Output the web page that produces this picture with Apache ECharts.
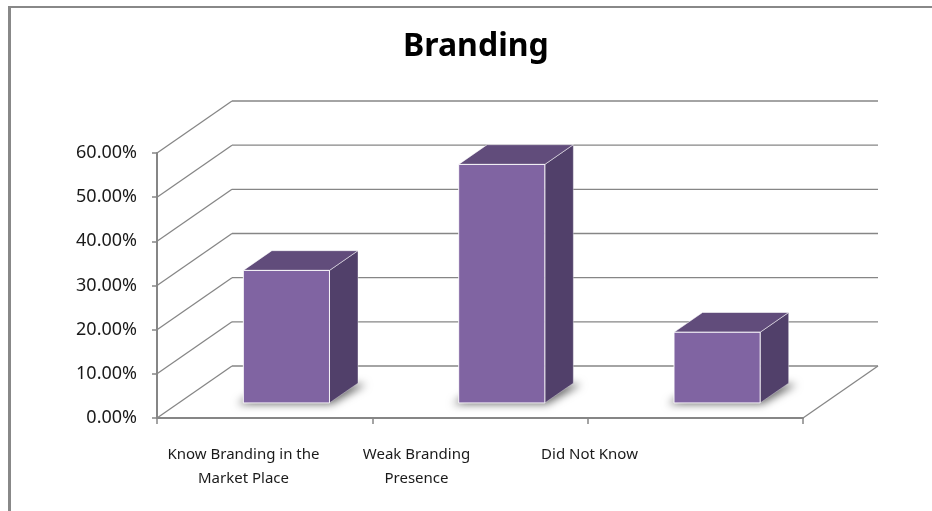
<!DOCTYPE html>
<html>
<head>
<meta charset="utf-8">
<title>Branding</title>
<script src="https://cdn.jsdelivr.net/npm/echarts@6/dist/echarts.min.js"></script>
<style>
  html, body { margin: 0; padding: 0; background: #ffffff; }
  #chart { width: 932px; height: 511px; }
</style>
</head>
<body>
<div id="chart"></div>
<script>
// Survey answers and their shares of respondents
const categories = ['Know Branding in the\nMarket Place', 'Weak Branding\nPresence', 'Did Not Know'];
const shares = [0.30, 0.54, 0.16];
const yTicks = [0, 0.1, 0.2, 0.3, 0.4, 0.5, 0.6];

// Oblique 3D look: the back wall sits this many pixels behind the front plane
const DEPTH = { x: 75, y: -52 };
// Where each box starts and ends inside the depth (fractions of DEPTH)
const BOX_FRONT = 0.29;
const BOX_BACK = 0.67;
const BOX_WIDTH = 0.4; // fraction of a category band

const GRID_COLOR = '#868686';
const FONT = '"Noto Sans", "DejaVu Sans", sans-serif';

const chart = echarts.init(document.getElementById('chart'), null, { renderer: 'canvas' });

function pct(v) {
  return (v * 100).toFixed(2) + '%';
}

// Left wall diagonals, back-wall grid lines and the floor's right edge
function renderWalls(params, api) {
  const v = api.value(1);
  const cs = params.coordSys;
  const y = api.coord([0, v])[1];
  const x0 = cs.x;
  const x1 = cs.x + cs.width;
  const lineStyle = { stroke: GRID_COLOR, lineWidth: 1.3, fill: null };
  const children = [
    { type: 'line', shape: { x1: x0, y1: y, x2: x0 + DEPTH.x, y2: y + DEPTH.y }, style: lineStyle },
    { type: 'line', shape: { x1: x0 + DEPTH.x, y1: y + DEPTH.y, x2: x1 + DEPTH.x, y2: y + DEPTH.y }, style: lineStyle }
  ];
  if (v === 0) {
    children.push({ type: 'line', shape: { x1: x1, y1: y, x2: x1 + DEPTH.x, y2: y + DEPTH.y }, style: lineStyle });
  }
  return { type: 'group', children: children };
}

// One shaded box per category: soft shadow, side, top and front faces
function renderBox(params, api) {
  const i = api.value(0);
  const v = api.value(1);
  const base = api.coord([i, 0]);
  const top = api.coord([i, v]);
  const band = api.size([1, 0])[0];
  const w = band * BOX_WIDTH;
  const L = base[0] - w / 2 + DEPTH.x * BOX_FRONT;
  const R = L + w;
  const B = base[1] + DEPTH.y * BOX_FRONT;
  const T = top[1] + DEPTH.y * BOX_FRONT;
  const dx = DEPTH.x * (BOX_BACK - BOX_FRONT);
  const dy = DEPTH.y * (BOX_BACK - BOX_FRONT);
  const OFF = 3000;

  return {
    type: 'group',
    children: [
      {
        // footprint drawn off-canvas so only its blurred shadow lands on the floor
        type: 'polygon',
        shape: { points: [[L - 6 - OFF, B + 1], [R + 2 - OFF, B + 1], [R + dx + 8 - OFF, B + dy + 1], [L + dx - 4 - OFF, B + dy + 1]] },
        style: { fill: 'rgba(0,0,0,1)', shadowBlur: 9, shadowColor: 'rgba(0,0,0,0.6)', shadowOffsetX: OFF }
      },
      {
        type: 'polygon',
        shape: { points: [[R, T], [R + dx, T + dy], [R + dx, B + dy], [R, B]] },
        style: { fill: '#51406a', stroke: 'rgba(255,255,255,0.35)', lineWidth: 1 }
      },
      {
        type: 'polygon',
        shape: { points: [[L, T], [R, T], [R + dx, T + dy], [L + dx, T + dy]] },
        style: { fill: '#614c7b', stroke: 'rgba(255,255,255,0.55)', lineWidth: 1 }
      },
      {
        type: 'rect',
        shape: { x: L, y: T, width: w, height: B - T },
        style: { fill: '#8064a2', stroke: 'rgba(255,255,255,0.9)', lineWidth: 1 }
      }
    ]
  };
}

const option = {
  backgroundColor: '#ffffff',
  animation: false,
  title: {
    text: 'Branding',
    left: 398,
    top: 26,
    padding: 5,
    textStyle: { fontFamily: FONT, fontWeight: 'bold', fontSize: 32, color: '#000000' }
  },
  grid: [
    { left: 157, top: 153, width: 646, height: 265, containLabel: false },
    // category captions sit on a narrower band than the boxes
    { left: 157, top: 153, width: 519, height: 265, containLabel: false }
  ],
  xAxis: [
    {
      type: 'category',
      gridIndex: 0,
      data: categories,
      boundaryGap: true,
      axisLine: { show: true, lineStyle: { color: '#868686', width: 2 } },
      axisTick: { show: true, length: 6, lineStyle: { color: '#868686', width: 1.5 } },
      axisLabel: { show: false },
      splitLine: { show: false }
    },
    {
      type: 'category',
      gridIndex: 1,
      data: categories,
      boundaryGap: true,
      axisLine: { show: false },
      axisTick: { show: false },
      axisLabel: {
        show: true,
        interval: 0,
        margin: 25,
        lineHeight: 24,
        fontFamily: FONT,
        fontSize: 15,
        color: '#1a1a1a'
      },
      splitLine: { show: false }
    }
  ],
  yAxis: [
    {
      type: 'value',
      gridIndex: 0,
      min: 0,
      max: 0.6,
      interval: 0.1,
      axisLine: { show: true, lineStyle: { color: '#868686', width: 2 } },
      axisTick: { show: true, length: 5, lineStyle: { color: '#868686', width: 1.5 } },
      axisLabel: {
        formatter: pct,
        margin: 20,
        padding: [5, 0, 0, 0],
        fontFamily: FONT,
        fontSize: 18,
        color: '#1a1a1a'
      },
      splitLine: { show: false }
    },
    {
      type: 'value',
      gridIndex: 1,
      min: 0,
      max: 0.6,
      show: false
    }
  ],
  series: [
    {
      type: 'custom',
      name: 'walls',
      xAxisIndex: 0,
      yAxisIndex: 0,
      z: 1,
      silent: true,
      renderItem: renderWalls,
      data: yTicks.map(function (v) { return [0, v]; })
    },
    {
      type: 'custom',
      name: 'Branding',
      xAxisIndex: 0,
      yAxisIndex: 0,
      z: 3,
      renderItem: renderBox,
      data: shares.map(function (v, i) { return [i, v]; })
    }
  ],
  graphic: [
    // chart-area frame along the top and left
    { type: 'line', shape: { x1: 9.5, y1: 7, x2: 932, y2: 7 }, style: { stroke: '#888888', lineWidth: 2 } },
    { type: 'line', shape: { x1: 9.5, y1: 6, x2: 9.5, y2: 511 }, style: { stroke: '#888888', lineWidth: 3 } }
  ]
};

chart.setOption(option);
</script>
</body>
</html>
